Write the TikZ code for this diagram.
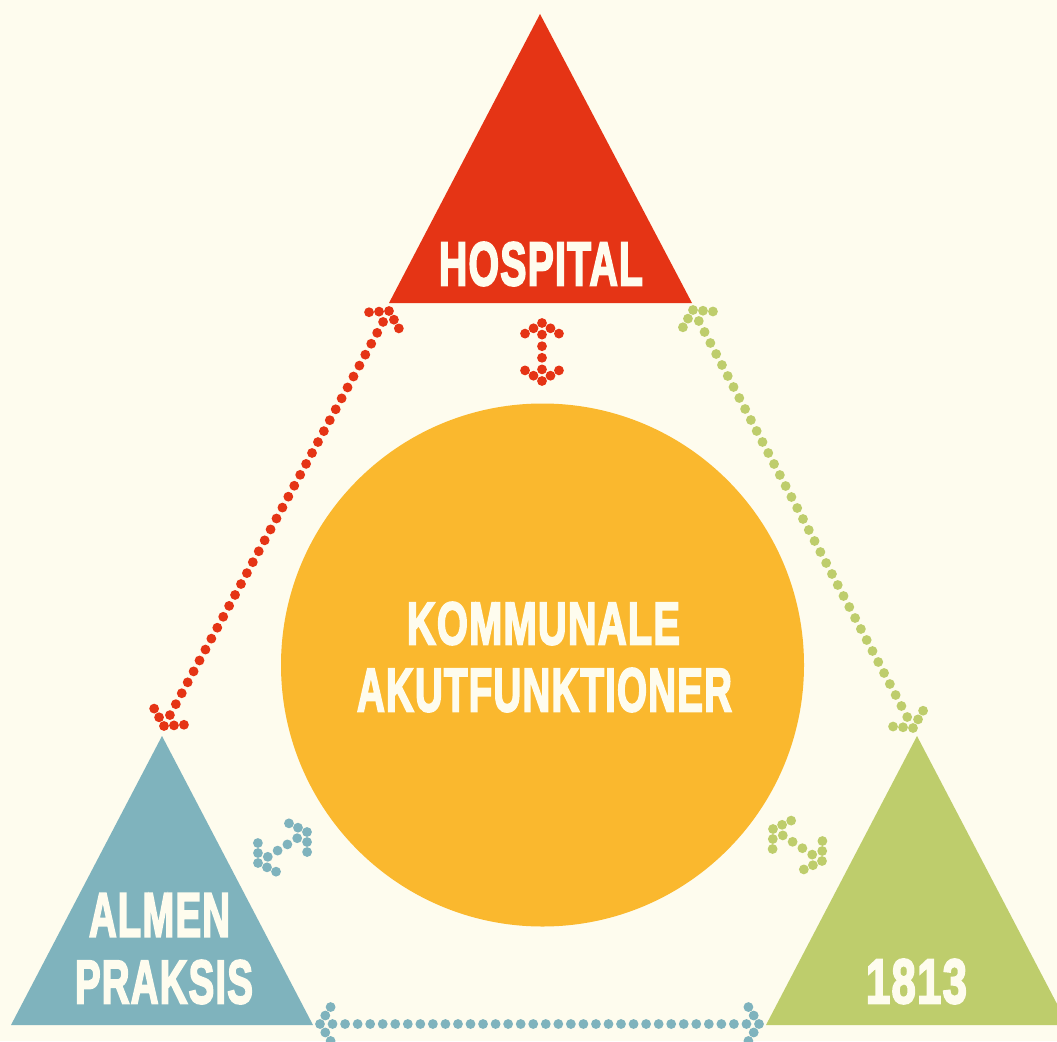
\documentclass[tikz,border=0pt]{standalone}
\usepackage{fontspec}
\setmainfont{Liberation Sans}
\newfontfamily\heavy[FakeBold=3.5,LetterSpace=3]{Liberation Sans Bold}
\usetikzlibrary{calc}
\definecolor{bgcol}{HTML}{FEFCEE}
\definecolor{redc}{HTML}{E53415}
\definecolor{bluec}{HTML}{7FB3BD}
\definecolor{greenc}{HTML}{BECD6C}
\definecolor{yellowc}{HTML}{FAB82E}
\newcommand{\fitlabel}[3]{\resizebox{#1pt}{#2pt}{\heavy #3}}
\newcommand{\dotlink}[4]{%
  \foreach \i in {0,...,#3}{\fill[#4] ($(#1)!\i/#3!(#2)$) circle[radius=4.9pt];}%
  \foreach \a in {58,-58}{%
    \fill[#4] ($(#1)!10pt!\a:(#2)$) circle[radius=4.9pt];
    \fill[#4] ($(#1)!20pt!\a:(#2)$) circle[radius=4.9pt];
    \fill[#4] ($(#2)!10pt!\a:(#1)$) circle[radius=4.9pt];
    \fill[#4] ($(#2)!20pt!\a:(#1)$) circle[radius=4.9pt];}%
}
\tikzset{lbl/.style={inner sep=0pt, outer sep=0pt, text=bgcol}}
\begin{document}
\begin{tikzpicture}[x=1pt,y=-1pt]
\clip (0,0) rectangle (1057,1041);
\fill[bgcol] (0,0) rectangle (1057,1041);
% triangles
\fill[redc] (540,14) -- (692,303) -- (389,303) -- cycle;
\fill[bluec] (162,736) -- (313,1025) -- (11,1025) -- cycle;
\fill[greenc] (917,736) -- (1068,1025) -- (766,1025) -- cycle;
% circle
\node[circle, fill=yellowc, minimum size=523pt, inner sep=0pt] (circ) at (542.5,665) {};
% labels
\node[lbl] (hosp) at (541,264) {\fitlabel{204}{43}{HOSPITAL}};
\node[lbl] (komm) at (543.5,623.5) {\fitlabel{273}{42}{KOMMUNALE}};
\node[lbl] (akut) at (544.5,690) {\fitlabel{375}{43}{AKUTFUNKTIONER}};
\node[lbl] (almen) at (159.5,915) {\fitlabel{141}{43}{ALMEN}};
\node[lbl] (praksis) at (164,982) {\fitlabel{178}{43}{PRAKSIS}};
\node[lbl] (nr) at (916.5,981.5) {\fitlabel{101}{44}{1813}};
% connector end points
\coordinate (rt) at (389,311);
\coordinate (rb) at (164,726);
\coordinate (gt) at (693,310);
\coordinate (gb) at (913,728);
\coordinate (ct) at (542,323);
\coordinate (cb) at (542,381);
\coordinate (bt) at (307,832);
\coordinate (bb) at (258,863);
\coordinate (st) at (773,829);
\coordinate (sb) at (822,861);
\coordinate (hl) at (320,1024);
\coordinate (hr) at (759,1024);
% connectors
\dotlink{rt}{rb}{38}{redc}
\dotlink{gt}{gb}{38}{greenc}
\dotlink{ct}{cb}{5}{redc}
\dotlink{bt}{bb}{5}{bluec}
\dotlink{st}{sb}{5}{greenc}
\dotlink{hl}{hr}{35}{bluec}
\end{tikzpicture}
\end{document}
